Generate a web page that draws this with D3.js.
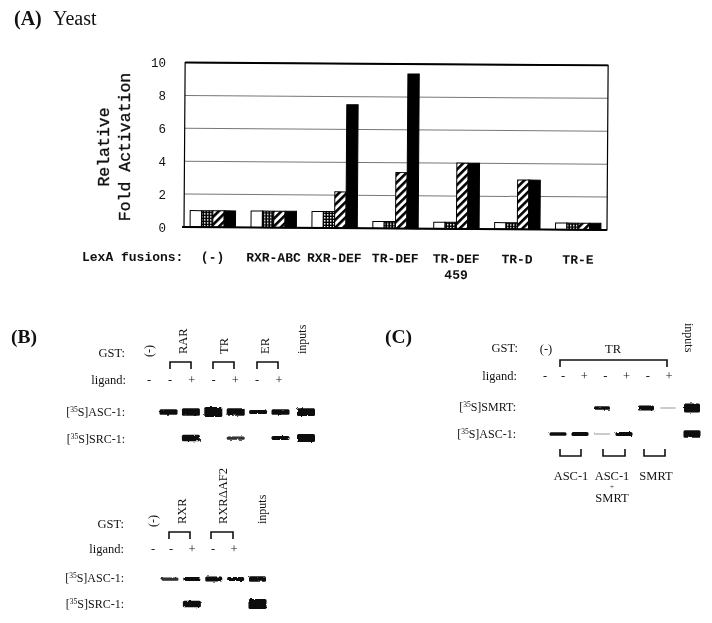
<!DOCTYPE html>
<html>
<head>
<meta charset="utf-8">
<script src="https://d3js.org/d3.v7.min.js"></script>
<style>
  body { margin: 0; background: #fff; }
  svg { will-change: transform; display: block; }
  text { fill: #111; }
  .serif { font-family: "Liberation Serif", serif; }
  .mono { font-family: "Liberation Mono", monospace; }
</style>
</head>
<body>
<div id="chart"></div>
<script>
// Panel A
var fusions = ["(-)", "RXR-ABC", "RXR-DEF", "TR-DEF", "TR-DEF", "TR-D", "TR-E"];
var conditions = ["a", "b", "c", "d"];
var seriesA = [1, 1, 1, 0.42, 0.4, 0.4, 0.4];
var seriesB = [1, 1, 1, 0.42, 0.4, 0.4, 0.4];
var seriesC = [1, 1, 2.2, 3.4, 4, 3, 0.4];
var seriesD = [1, 1, 7.5, 9.4, 4, 3, 0.4];
var yTicks = [0, 2, 4, 6, 8, 10];

// Panel B top, band strength per lane (0 = nothing)
var ligandB1 = ["-", "-", "+", "-", "+", "-", "+"];
var ascB1 = [0.5, 0.7, 1, 0.7, 0.35, 0.5, 0.75];
var srcB1 = [0, 0.6, 0, 0.25, 0, 0.35, 0.8];

// Panel B bottom
var ligandB2 = ["-", "-", "+", "-", "+"];
var ascB2 = [0.25, 0.35, 0.45, 0.35, 0.5];
var srcB2 = [0, 0.6, 0, 0, 1];

// Panel C
var ligandC = ["-", "-", "+", "-", "+", "-", "+"];
var smrtC = [0, 0, 0.3, 0, 0.45, 0.06, 0.9];
var ascC = [0.3, 0.35, 0.06, 0.35, 0, 0, 0.7];

var svg = d3.select("#chart").append("svg")
  .attr("width", 712)
  .attr("height", 623);

var defs = svg.append("defs");

var dots = defs.append("pattern").attr("id", "dots")
  .attr("width", 3).attr("height", 3).attr("patternUnits", "userSpaceOnUse");
dots.append("rect").attr("width", 3).attr("height", 3).attr("fill", "#000");
dots.append("rect").attr("width", 1.4).attr("height", 1.6).attr("fill", "#fff");

var hatch = defs.append("pattern").attr("id", "hatch")
  .attr("width", 5.5).attr("height", 5.5).attr("patternUnits", "userSpaceOnUse")
  .attr("patternTransform", "rotate(-45)");
hatch.append("rect").attr("width", 5.5).attr("height", 5.5).attr("fill", "#fff");
hatch.append("rect").attr("width", 5.5).attr("height", 2.6).attr("fill", "#000");

var rough = defs.append("filter").attr("id", "rough")
  .attr("x", "-10%").attr("y", "-60%").attr("width", "120%").attr("height", "220%");
rough.append("feTurbulence").attr("type", "fractalNoise")
  .attr("baseFrequency", 0.3).attr("numOctaves", 2).attr("seed", 4);
rough.append("feDisplacementMap").attr("in", "SourceGraphic")
  .attr("scale", 2.5);
rough.append("feGaussianBlur").attr("stdDeviation", 0.4);

function label(x, y, str, size, cls, anchor) {
  return svg.append("text")
    .attr("class", cls || "serif")
    .attr("x", x).attr("y", y)
    .attr("font-size", size)
    .attr("text-anchor", anchor || "start")
    .text(str);
}

function vertical(x, y, str, size, angle) {
  svg.append("text")
    .attr("class", "serif")
    .attr("transform", `translate(${x},${y}) rotate(${angle || -90})`)
    .attr("font-size", size)
    .text(str);
}

function isotope(endX, y, name) {
  var t = svg.append("text").attr("class", "serif")
    .attr("x", endX).attr("y", y)
    .attr("font-size", 12).attr("text-anchor", "end");
  t.append("tspan").text("[");
  t.append("tspan").attr("font-size", 7.5).attr("dy", -4).text("35");
  t.append("tspan").attr("dy", 4).text("S]" + name);
}

function bracket(x0, x1, y0, y1) {
  svg.append("path")
    .attr("d", d3.line()([[x0, y1], [x0, y0], [x1, y0], [x1, y1]]))
    .attr("fill", "none")
    .attr("stroke", "#111")
    .attr("stroke-width", 1.6);
}

var thick = d3.scaleLinear().domain([0, 1]).range([1, 10]);
var dark = d3.scaleLinear().domain([0, 0.3, 1]).range([0.1, 1, 1]);

function bands(values, lane, y, w) {
  svg.append("g").attr("filter", "url(#rough)")
    .selectAll("rect")
    .data(values.map(function(d, i) { return {s: d, i: i}; }).filter(function(d) { return d.s > 0; }))
    .enter()
    .append("rect")
    .attr("x", function(d) { return lane(d.i) - w / 2; })
    .attr("y", function(d) { return y - thick(d.s) / 2; })
    .attr("width", w)
    .attr("height", function(d) { return thick(d.s); })
    .attr("rx", 1.5)
    .attr("fill", "#0a0a0a")
    .attr("opacity", function(d) { return dark(d.s); });
}

function ligandRow(values, xs, y) {
  svg.append("g").selectAll("text")
    .data(values)
    .enter()
    .append("text")
    .attr("class", "serif")
    .attr("x", function(d, i) { return xs(i); })
    .attr("y", y)
    .attr("font-size", 12.5)
    .attr("text-anchor", "middle")
    .text(function(d) { return d; });
}

// ---- Panel A
label(14, 25, "(A)", 20).attr("font-weight", "bold");
label(53, 25, "Yeast", 20);

var plotLeft = 184, plotRight = 607, plotTop = 62.5, plotBottom = 227;

var chartGroup = svg.append("g")
  .attr("transform", `rotate(0.4, ${plotLeft}, ${plotBottom})`);

var xScale = d3.scaleBand()
  .domain(d3.range(fusions.length))
  .range([plotLeft, plotRight])
  .paddingInner(0.255)
  .paddingOuter(0.1);
var xInner = d3.scaleBand()
  .domain(conditions)
  .range([0, xScale.bandwidth()]);
var yScale = d3.scaleLinear().domain([0, 10]).range([plotBottom, plotTop]);

chartGroup.append("g")
  .selectAll("line")
  .data(yTicks.slice(1, -1))
  .enter()
  .append("line")
  .attr("x1", plotLeft).attr("x2", plotRight)
  .attr("y1", function(d) { return yScale(d); })
  .attr("y2", function(d) { return yScale(d); })
  .attr("stroke", "#777")
  .attr("stroke-width", 1);

var seriesAll = [seriesA, seriesB, seriesC, seriesD];
var fills = ["#fff", "url(#dots)", "url(#hatch)", "#000"];

seriesAll.forEach(function(values, s) {
  chartGroup.append("g")
    .selectAll("rect")
    .data(values)
    .enter()
    .append("rect")
    .attr("x", function(d, i) { return xScale(i) + xInner(conditions[s]); })
    .attr("y", function(d) { return yScale(d); })
    .attr("width", xInner.bandwidth())
    .attr("height", function(d) { return plotBottom - yScale(d); })
    .attr("fill", fills[s])
    .attr("stroke", "#000")
    .attr("stroke-width", 1);
});

chartGroup.append("rect")
  .attr("x", plotLeft).attr("y", plotTop)
  .attr("width", plotRight - plotLeft).attr("height", plotBottom - plotTop)
  .attr("fill", "none").attr("stroke", "#000").attr("stroke-width", 1.2);
chartGroup.append("line")
  .attr("x1", plotLeft - 2).attr("x2", plotRight)
  .attr("y1", plotBottom).attr("y2", plotBottom)
  .attr("stroke", "#000").attr("stroke-width", 2);
chartGroup.append("line")
  .attr("x1", plotLeft).attr("x2", plotRight)
  .attr("y1", plotTop).attr("y2", plotTop)
  .attr("stroke", "#000").attr("stroke-width", 1.8);

var leftAxis = d3.axisLeft(yScale).tickValues(yTicks).tickSize(0).tickPadding(18);
var axisG = svg.append("g")
  .attr("transform", `translate(${plotLeft},0)`)
  .call(leftAxis);
axisG.select(".domain").remove();
axisG.selectAll("text")
  .attr("font-family", "'Liberation Mono', monospace")
  .attr("font-size", 12.5);

svg.append("g").selectAll("text")
  .data(["Relative", "Fold Activation"])
  .enter()
  .append("text")
  .attr("class", "mono")
  .attr("transform", function(d, i) { return `translate(${109 + i * 20.5},147) rotate(-90)`; })
  .attr("text-anchor", "middle")
  .attr("font-size", 16.5)
  .attr("stroke", "#111")
  .attr("stroke-width", 0.35)
  .text(function(d) { return d; });

chartGroup.append("g").selectAll("text")
  .data(fusions)
  .enter()
  .append("text")
  .attr("class", "mono")
  .attr("x", function(d, i) { return xScale(i) + xScale.bandwidth() / 2; })
  .attr("y", 261)
  .attr("font-size", 13)
  .attr("font-weight", "bold")
  .attr("text-anchor", "middle")
  .text(function(d) { return d; });

chartGroup.append("text").attr("class", "mono")
  .attr("x", xScale(4) + xScale.bandwidth() / 2).attr("y", 277)
  .attr("font-size", 13).attr("font-weight", "bold").attr("text-anchor", "middle")
  .text("459");
label(82, 261, "LexA fusions:", 13, "mono").attr("font-weight", "bold");

// ---- Panel B top
label(11, 343, "(B)", 19.5).attr("font-weight", "bold");
label(125, 357, "GST:", 12.5, "serif", "end");
label(126, 384, "ligand:", 12.5, "serif", "end");
isotope(125, 416, "ASC-1:");
isotope(125, 443, "SRC-1:");
vertical(153, 357, "(-)", 12);
vertical(187, 354, "RAR", 12.5);
vertical(228, 354, "TR", 12.5);
vertical(269, 354, "ER", 12.5);
vertical(306, 354, "inputs", 12);
bracket(170, 191, 362, 369);
bracket(213, 234, 362, 369);
bracket(257, 278, 362, 369);

var laneB1 = d3.scaleLinear().domain([0, 5, 6]).range([168.5, 280.5, 306]);
var tickB1 = d3.scaleLinear().domain([0, 1, 6]).range([149, 170, 279]);
ligandRow(ligandB1, tickB1, 384);
bands(ascB1, laneB1, 412, 18);
bands(srcB1, laneB1, 438, 18);

// ---- Panel B bottom
label(124, 528, "GST:", 12.5, "serif", "end");
label(124, 553, "ligand:", 12.5, "serif", "end");
isotope(124, 582, "ASC-1:");
isotope(124, 608, "SRC-1:");
vertical(157, 527, "(-)", 12);
vertical(186, 524, "RXR", 12.5);
vertical(227, 524, "RXR\u0394AF2", 12.5);
vertical(266, 524, "inputs", 12);
bracket(169, 190, 532, 539);
bracket(211, 233, 532, 539);

var laneB2 = d3.scaleLinear().domain([0, 4]).range([170, 257.5]);
var tickB2 = d3.scaleLinear().domain([0, 1, 4]).range([153, 171, 234]);
ligandRow(ligandB2, tickB2, 553);
bands(ascB2, laneB2, 579, 17);
bands(srcB2, laneB2, 604, 18);

// ---- Panel C
label(385, 343, "(C)", 19.5).attr("font-weight", "bold");
label(518, 352, "GST:", 12.5, "serif", "end");
label(517, 380, "ligand:", 12.5, "serif", "end");
isotope(516, 411, "SMRT:");
isotope(516, 438, "ASC-1:");
label(546, 353, "(-)", 12.5, "serif", "middle");
label(613, 353, "TR", 12.5, "serif", "middle");
vertical(685, 323, "inputs", 12, 90);
bracket(560, 667, 360, 367);

var laneC = d3.scaleLinear().domain([0, 5, 6]).range([558, 668, 692]);
var tickC = d3.scaleLinear().domain([0, 1, 6]).range([545, 563, 669]);
ligandRow(ligandC, tickC, 380);
bands(smrtC, laneC, 408, 16);
bands(ascC, laneC, 434, 17);

bracket(560, 581, 456, 449);
bracket(603, 625, 456, 449);
bracket(644, 665, 456, 449);
label(571, 480, "ASC-1", 12.5, "serif", "middle");
label(612, 480, "ASC-1", 12.5, "serif", "middle");
label(612, 488.5, "+", 7, "serif", "middle");
label(612, 502, "SMRT", 12.5, "serif", "middle");
label(656, 480, "SMRT", 12.5, "serif", "middle");
</script>
</body>
</html>
